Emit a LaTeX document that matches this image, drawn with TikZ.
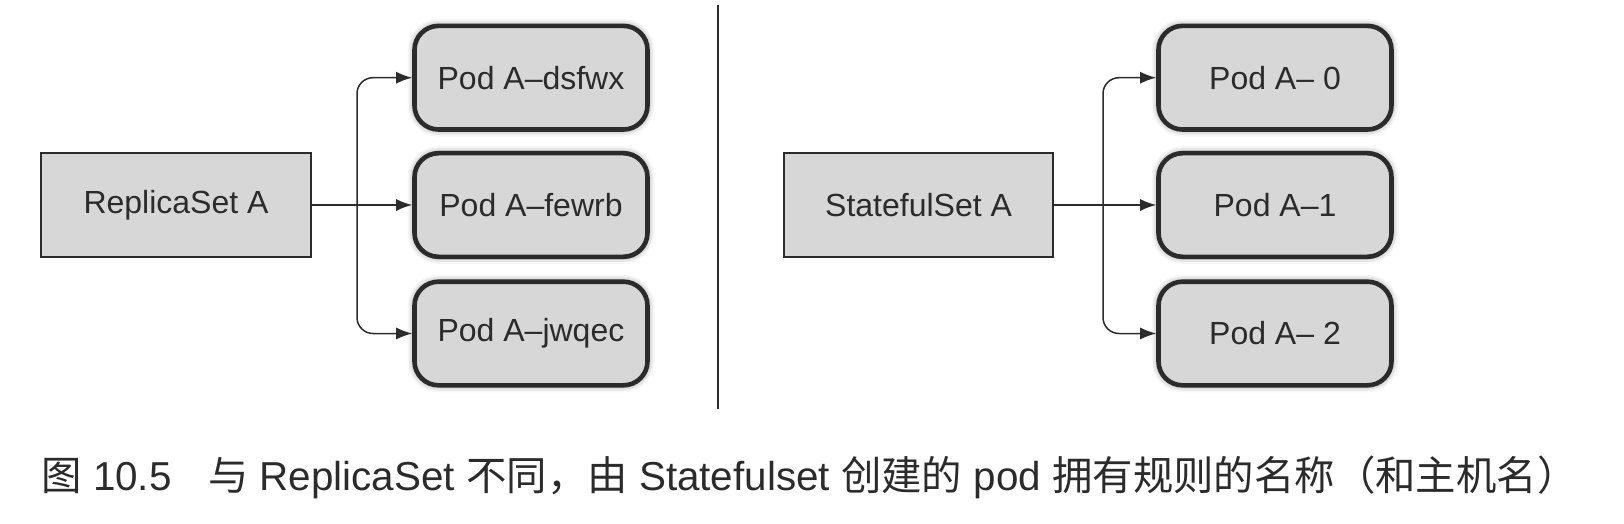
\documentclass[tikz,border=0pt]{standalone}
\usepackage{fontspec}
\setmainfont{Liberation Sans}
\newfontfamily\cjk{Noto Sans CJK SC}
\usetikzlibrary{arrows.meta,shadows.blur}
\definecolor{boxfill}{HTML}{D7D7D7}
\definecolor{ink}{HTML}{2B2B2B}
\begin{document}
\begin{tikzpicture}[x=0.5pt,y=-0.5pt,
  setbox/.style={draw=ink, line width=1pt, fill=boxfill, minimum width=134.6pt, minimum height=51.8pt,
    font=\fontsize{16}{19}\selectfont, text=ink, inner sep=0pt},
  podbox/.style={draw=ink, line width=2.3pt, fill=boxfill, rounded corners=12pt, minimum width=116.5pt,
    minimum height=51.8pt, font=\fontsize{16}{19}\selectfont, text=ink, inner sep=0pt,
    blur shadow={shadow xshift=0pt, shadow yshift=0pt, shadow blur radius=3.5pt, shadow opacity=55}},
  conn/.style={draw=ink, line width=0.75pt, -{Latex[length=8pt,width=6pt]}},
  divider/.style={draw=ink, line width=0.8pt}]
\useasboundingbox (0,0) rectangle (1624,524);
% left side
\node[setbox] (rs) at (176,205) {ReplicaSet A};
\node[podbox] (pa1) at (531,77.7) {Pod A–dsfwx};
\node[podbox] (pa2) at (531,205) {Pod A–fewrb};
\node[podbox] (pa3) at (531,333.5) {Pod A–jwqec};
\coordinate (jl) at (357,205);
\draw[conn] (rs) -- (pa2);
\draw[conn, rounded corners=8pt] (jl) |- (pa1);
\draw[conn, rounded corners=8pt] (jl) |- (pa3);
% divider
\coordinate (dt) at (718,5);
\coordinate (db) at (718,409);
\draw[divider] (dt) -- (db);
% right side
\node[setbox] (ss) at (918.6,205) {StatefulSet A};
\node[podbox] (pb0) at (1275,77.7) {Pod A– 0};
\node[podbox] (pb1) at (1275,205) {Pod A–1};
\node[podbox] (pb2) at (1275,333.5) {Pod A– 2};
\coordinate (jr) at (1103,205);
\draw[conn] (ss) -- (pb1);
\draw[conn, rounded corners=8pt] (jr) |- (pb0);
\draw[conn, rounded corners=8pt] (jr) |- (pb2);
% caption
\node[anchor=west, font=\fontsize{20.2}{24}\selectfont, text=ink, inner sep=0pt] (cap) at (41,477)
  {{\cjk 图} 10.5\hspace{0.9em}{\cjk 与} ReplicaSet {\cjk 不同，由} Statefulset {\cjk 创建的} pod {\cjk 拥有规则的名称（和主机名）}};
\end{tikzpicture}
\end{document}
